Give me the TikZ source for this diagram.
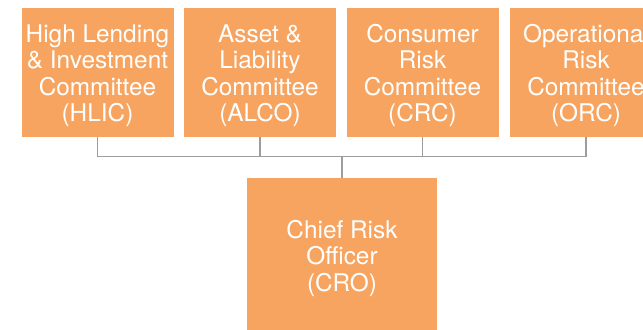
\documentclass[tikz,border=0pt]{standalone}
\usepackage{fontspec}
\setmainfont{TeX Gyre Heros}
\definecolor{boxorange}{HTML}{F6A45F}
\definecolor{linkgray}{HTML}{9D9D9D}
% taller first line, sets the text a little lower in its box
\newcommand{\toprow}{\rule{0pt}{21pt}}

\begin{document}
\begin{tikzpicture}[
    unit/.style={rectangle, fill=boxorange, draw=none, inner sep=0pt, align=center,
        text=white, font=\fontsize{20.8}{22.6}\selectfont,
        minimum width=4.56cm, minimum height=3.87cm},
    link/.style={draw=linkgray, line width=1.3pt}
]
    \useasboundingbox (0,0) rectangle (19.29,9.87);
    \clip (0,0) rectangle (19.29,9.87);

    % committees
    \node[unit] at (2.925,7.695) (hlic) {\toprow High Lending\\ \& Investment\\ Committee\\ (HLIC)};
    \node[unit] at (7.8,7.695) (alco) {\toprow Asset \&\\ Liability\\ Committee\\ (ALCO)};
    \node[unit] at (12.675,7.695) (crc) {\toprow Consumer\\ Risk\\ Committee\\ (CRC)};
    \node[unit] at (17.58,7.695) (orc) {\toprow Operational\\ Risk\\ Committee\\ (ORC)};

    % reporting line
    \node[unit, minimum width=5.685cm, minimum height=4.62cm] at (10.26,2.22) (cro) {\toprow Chief Risk\\ Officer\\ (CRO)};

    \coordinate (bus) at (10.26,5.175);
    \foreach \c in {hlic,alco,crc,orc}
        \draw[link] (\c.south) |- (bus);
    \draw[link] (bus) -- (cro.north);
\end{tikzpicture}
\end{document}
